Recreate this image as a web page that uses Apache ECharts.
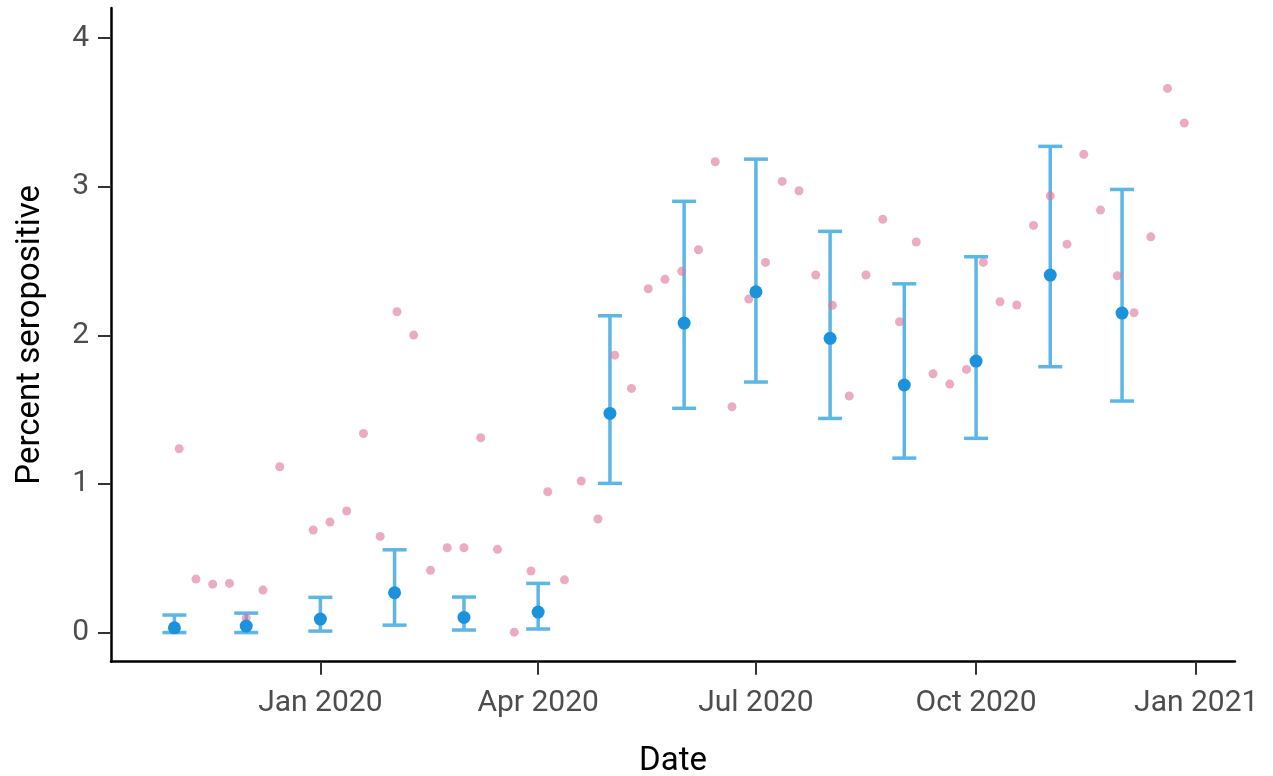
<!DOCTYPE html>
<html>
<head>
<meta charset="utf-8">
<script src="https://cdn.jsdelivr.net/npm/echarts@6/dist/echarts.min.js"></script>
<style>
html,body{margin:0;padding:0;background:#fff;}
#chart{width:1273px;height:776px;}
</style>
</head>
<body>
<div id="chart"></div>
<script>
// Weekly raw percentages (pink points)
const weeklyDates = [
 '2019-11-03','2019-11-10','2019-11-17','2019-11-24','2019-12-01','2019-12-08','2019-12-15',
 '2019-12-29','2020-01-05','2020-01-12','2020-01-19','2020-01-26','2020-02-02','2020-02-09',
 '2020-02-16','2020-02-23','2020-03-01','2020-03-08','2020-03-15','2020-03-22','2020-03-29',
 '2020-04-05','2020-04-12','2020-04-19','2020-04-26','2020-05-03','2020-05-10','2020-05-17',
 '2020-05-24','2020-05-31','2020-06-07','2020-06-14','2020-06-21','2020-06-28','2020-07-05',
 '2020-07-12','2020-07-19','2020-07-26','2020-08-02','2020-08-09','2020-08-16','2020-08-23',
 '2020-08-30','2020-09-06','2020-09-13','2020-09-20','2020-09-27','2020-10-04','2020-10-11',
 '2020-10-18','2020-10-25','2020-11-01','2020-11-08','2020-11-15','2020-11-22','2020-11-29',
 '2020-12-06','2020-12-13','2020-12-20','2020-12-27'
];
const weeklyValues = [
 1.237,0.360,0.326,0.331,0.098,0.286,1.116,
 0.690,0.744,0.818,1.340,0.647,2.159,2.002,
 0.419,0.571,0.571,1.311,0.560,0.003,0.414,
 0.948,0.355,1.020,0.764,1.867,1.643,2.314,
 2.377,2.431,2.576,3.168,1.520,2.244,2.491,
 3.036,2.973,2.406,2.202,1.592,2.406,2.781,
 2.092,2.628,1.742,1.672,1.771,2.491,2.226,
 2.204,2.740,2.939,2.614,3.218,2.843,2.401,
 2.152,2.663,3.662,3.429
];

// Monthly estimates with intervals (blue)
const monthlyDates = [
 '2019-11-01','2019-12-01','2020-01-01','2020-02-01','2020-03-01','2020-04-01','2020-05-01',
 '2020-06-01','2020-07-01','2020-08-01','2020-09-01','2020-10-01','2020-11-01','2020-12-01'
];
const monthlyEstimate = [0.032,0.044,0.091,0.268,0.102,0.138,1.475,2.083,2.293,1.980,1.666,1.827,2.406,2.150];
const monthlyLower    = [0.000,0.000,0.010,0.050,0.017,0.024,1.004,1.509,1.686,1.441,1.174,1.307,1.789,1.558];
const monthlyUpper    = [0.118,0.131,0.237,0.557,0.239,0.331,2.132,2.902,3.186,2.700,2.347,2.529,3.272,2.982];

const yTickValues = [0,1,2,3,4];
const xTickDates = ['2020-01-01','2020-04-01','2020-07-01','2020-10-01','2021-01-01'];
const monthNames = ['Jan','Feb','Mar','Apr','May','Jun','Jul','Aug','Sep','Oct','Nov','Dec'];

function parseLocal(s){ const p=s.split('-').map(Number); return new Date(p[0],p[1]-1,p[2]).getTime(); }

const weeklyData = weeklyDates.map((d,i)=>[parseLocal(d), weeklyValues[i]]);
const monthlyData = monthlyDates.map((d,i)=>[parseLocal(d), monthlyEstimate[i]]);
const errData = monthlyDates.map((d,i)=>[parseLocal(d), monthlyLower[i], monthlyUpper[i]]);
const xTicks = xTickDates.map(parseLocal);

const DAY = 86400000;
const xMin = parseLocal('2020-01-01') - 87.5*DAY;
const xMax = parseLocal('2021-01-01') + 16.2*DAY;

const chart = echarts.init(document.getElementById('chart'));
const errColor = '#5cb6e8';
const option = {
  animation:false,
  backgroundColor:'#ffffff',
  textStyle:{fontFamily:'Roboto'},
  grid:{left:111,right:38,top:8,bottom:114.3,containLabel:false,outerBoundsMode:'none'},
  xAxis:{
    type:'value', min:xMin, max:xMax, scale:true,
    name:'Date', nameLocation:'middle', nameGap:84,
    nameTextStyle:{fontFamily:'Roboto',fontSize:33,color:'#000'},
    axisLine:{onZero:false,lineStyle:{color:'#000',width:2.5}},
    axisTick:{show:true,length:13,lineStyle:{color:'#333',width:2},customValues:xTicks},
    axisLabel:{fontFamily:'Roboto',fontSize:30,color:'#4d4d4d',margin:27,customValues:xTicks,
      formatter:function(v){const d=new Date(v);return monthNames[d.getMonth()]+' '+d.getFullYear();}},
    splitLine:{show:false}
  },
  yAxis:{
    type:'value', min:-0.196, max:4.203,
    name:'Percent seropositive', nameLocation:'middle', nameGap:64, nameRotate:90,
    nameTextStyle:{fontFamily:'Roboto',fontSize:33,color:'#000'},
    axisLine:{show:true,onZero:false,lineStyle:{color:'#000',width:2.5}},
    axisTick:{show:true,length:13,lineStyle:{color:'#333',width:2},customValues:yTickValues},
    axisLabel:{fontFamily:'Roboto',fontSize:30,color:'#4d4d4d',margin:22,customValues:yTickValues},
    splitLine:{show:false}
  },
  series:[
    {
      type:'custom',
      data:errData,
      encode:{x:0,y:[1,2]},
      renderItem:function(params,api){
        const x = api.value(0);
        const lo = api.coord([x, api.value(1)]);
        const hi = api.coord([x, api.value(2)]);
        const hw = 12;
        const st = {stroke:errColor,lineWidth:3.5};
        return {type:'group',children:[
          {type:'line',shape:{x1:lo[0],y1:lo[1],x2:hi[0],y2:hi[1]},style:st},
          {type:'line',shape:{x1:hi[0]-hw,y1:hi[1],x2:hi[0]+hw,y2:hi[1]},style:st},
          {type:'line',shape:{x1:lo[0]-hw,y1:lo[1],x2:lo[0]+hw,y2:lo[1]},style:st}
        ]};
      },
      z:1
    },
    {
      type:'scatter',
      data:weeklyData,
      symbolSize:9,
      itemStyle:{color:'rgba(222,120,155,0.62)',opacity:1},
      z:2
    },
    {
      type:'scatter',
      data:monthlyData,
      symbolSize:13,
      itemStyle:{color:'#1b93dc',opacity:1},
      z:3
    }
  ]
};
chart.setOption(option);
</script>
</body>
</html>
